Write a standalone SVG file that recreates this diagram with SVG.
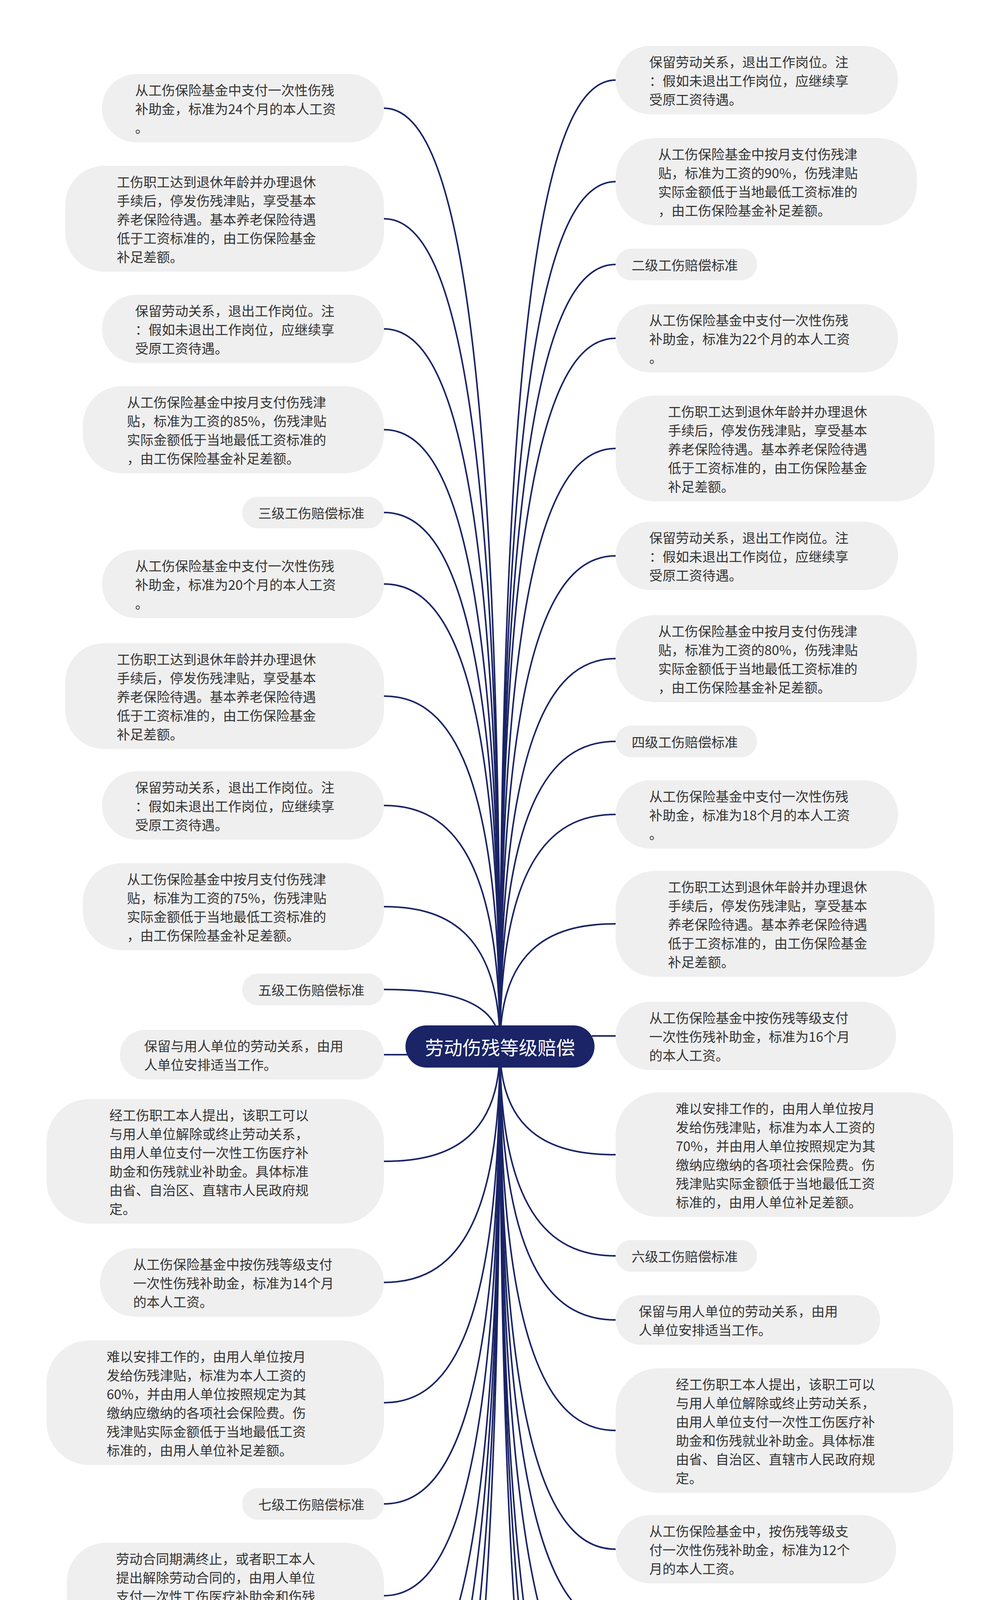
<svg xmlns="http://www.w3.org/2000/svg" width="2560" height="5359" viewBox="0 0 2560 5359">
<style>
.n{fill:#efefef}
.t{font-family:"Noto Sans CJK SC","Noto Sans",sans-serif;font-size:34px;fill:#333;dominant-baseline:central}
.e{fill:none;stroke:#1a2466;stroke-width:4}
</style>
<rect width="2560" height="5359" fill="#fff"/>
<g id="edges" class="e">
<path d="M983,277 C1130,277 1280,637 1280,2680"/>
<path d="M983,560 C1130,560 1280,878 1280,2680"/>
<path d="M983,842 C1130,842 1280,1118 1280,2680"/>
<path d="M983,1100 C1130,1100 1280,1337 1280,2680"/>
<path d="M983,1312 C1130,1312 1280,1517 1280,2680"/>
<path d="M983,1495 C1130,1495 1280,1673 1280,2680"/>
<path d="M983,1782 C1130,1782 1280,1917 1280,2680"/>
<path d="M983,2062 C1130,2062 1280,2155 1280,2680"/>
<path d="M983,2321 C1130,2321 1280,2375 1280,2680"/>
<path d="M983,2533 C1130,2533 1280,2555 1280,2680"/>
<path d="M983,2700 L1045,2700"/>
<path d="M983,2973 C1130,2973 1280,2929 1280,2680"/>
<path d="M983,3283 C1130,3283 1280,3193 1280,2680"/>
<path d="M983,3591 C1130,3591 1280,3454 1280,2680"/>
<path d="M983,3850 C1130,3850 1280,3674 1280,2680"/>
<path d="M983,4085 C1130,4085 1280,3874 1280,2680"/>
<path d="M983,4362 C1130,4362 1280,4110 1280,2680"/>
<path d="M983,4556 C1130,4556 1280,4275 1280,2680"/>
<path d="M983,4792 C1130,4792 1280,4475 1280,2680"/>
<path d="M983,5072 C1130,5072 1280,4713 1280,2680"/>
<path d="M1576,205 C1430,205 1280,576 1280,2680"/>
<path d="M1576,465 C1430,465 1280,797 1280,2680"/>
<path d="M1576,677 C1430,677 1280,977 1280,2680"/>
<path d="M1576,866 C1430,866 1280,1138 1280,2680"/>
<path d="M1576,1148 C1430,1148 1280,1378 1280,2680"/>
<path d="M1576,1423 C1430,1423 1280,1612 1280,2680"/>
<path d="M1576,1686 C1430,1686 1280,1835 1280,2680"/>
<path d="M1576,1898 C1430,1898 1280,2015 1280,2680"/>
<path d="M1576,2085 C1430,2085 1280,2174 1280,2680"/>
<path d="M1576,2365 C1430,2365 1280,2412 1280,2680"/>
<path d="M1576,2652 L1515,2652"/>
<path d="M1576,2956 C1430,2956 1280,2915 1280,2680"/>
<path d="M1576,3215 C1430,3215 1280,3135 1280,2680"/>
<path d="M1576,3379 C1430,3379 1280,3274 1280,2680"/>
<path d="M1576,3662 C1430,3662 1280,3515 1280,2680"/>
<path d="M1576,3966 C1430,3966 1280,3773 1280,2680"/>
<path d="M1576,4157 C1430,4157 1280,3935 1280,2680"/>
<path d="M1576,4393 C1430,4393 1280,4136 1280,2680"/>
<path d="M1576,4676 C1430,4676 1280,4377 1280,2680"/>
<path d="M1576,4860 C1430,4860 1280,4533 1280,2680"/>
<path d="M1576,5096 C1430,5096 1280,4734 1280,2680"/>
</g>
<g id="root"><rect x="1038" y="2625" width="484" height="108" rx="54" fill="#1a2466"/><text x="1280" y="2679" font-family="Noto Sans CJK SC,sans-serif" font-size="48" fill="#fff" text-anchor="middle" dominant-baseline="central">劳动伤残等级赔偿</text></g>

<g id="L1"><rect class="n" x="261" y="189.5" width="722" height="175" rx="88"/><text class="t" x="346" y="229"><tspan x="346">从工伤保险基金中支付一次性伤残</tspan><tspan x="346" dy="48">补助金，标准为24个月的本人工资</tspan><tspan x="346" dy="48">。</tspan></text></g>
<g id="L2"><rect class="n" x="167" y="424.5" width="816" height="271" rx="100"/><text class="t" x="299" y="464"><tspan x="299">工伤职工达到退休年龄并办理退休</tspan><tspan x="299" dy="48">手续后，停发伤残津贴，享受基本</tspan><tspan x="299" dy="48">养老保险待遇。基本养老保险待遇</tspan><tspan x="299" dy="48">低于工资标准的，由工伤保险基金</tspan><tspan x="299" dy="48">补足差额。</tspan></text></g>
<g id="L3"><rect class="n" x="261" y="754.5" width="722" height="175" rx="88"/><text class="t" x="346" y="794"><tspan x="346">保留劳动关系，退出工作岗位。注</tspan><tspan x="346" dy="48">：假如未退出工作岗位，应继续享</tspan><tspan x="346" dy="48">受原工资待遇。</tspan></text></g>
<g id="L4"><rect class="n" x="212" y="988.5" width="771" height="223" rx="100"/><text class="t" x="325" y="1028"><tspan x="325">从工伤保险基金中按月支付伤残津</tspan><tspan x="325" dy="48">贴，标准为工资的85%，伤残津贴</tspan><tspan x="325" dy="48">实际金额低于当地最低工资标准的</tspan><tspan x="325" dy="48">，由工伤保险基金补足差额。</tspan></text></g>
<g id="L5"><rect class="n" x="620" y="1271.5" width="363" height="81" rx="40"/><text class="t" x="661" y="1312">三级工伤赔偿标准</text></g>
<g id="L6"><rect class="n" x="261" y="1407.5" width="722" height="175" rx="88"/><text class="t" x="346" y="1447"><tspan x="346">从工伤保险基金中支付一次性伤残</tspan><tspan x="346" dy="48">补助金，标准为20个月的本人工资</tspan><tspan x="346" dy="48">。</tspan></text></g>
<g id="L7"><rect class="n" x="167" y="1646.5" width="816" height="271" rx="100"/><text class="t" x="299" y="1686"><tspan x="299">工伤职工达到退休年龄并办理退休</tspan><tspan x="299" dy="48">手续后，停发伤残津贴，享受基本</tspan><tspan x="299" dy="48">养老保险待遇。基本养老保险待遇</tspan><tspan x="299" dy="48">低于工资标准的，由工伤保险基金</tspan><tspan x="299" dy="48">补足差额。</tspan></text></g>
<g id="L8"><rect class="n" x="261" y="1974.5" width="722" height="175" rx="88"/><text class="t" x="346" y="2014"><tspan x="346">保留劳动关系，退出工作岗位。注</tspan><tspan x="346" dy="48">：假如未退出工作岗位，应继续享</tspan><tspan x="346" dy="48">受原工资待遇。</tspan></text></g>
<g id="L9"><rect class="n" x="212" y="2209.5" width="771" height="223" rx="100"/><text class="t" x="325" y="2249"><tspan x="325">从工伤保险基金中按月支付伤残津</tspan><tspan x="325" dy="48">贴，标准为工资的75%，伤残津贴</tspan><tspan x="325" dy="48">实际金额低于当地最低工资标准的</tspan><tspan x="325" dy="48">，由工伤保险基金补足差额。</tspan></text></g>
<g id="L10"><rect class="n" x="620" y="2492.5" width="363" height="81" rx="40"/><text class="t" x="661" y="2533">五级工伤赔偿标准</text></g>
<g id="L11"><rect class="n" x="307" y="2636.5" width="676" height="127" rx="63"/><text class="t" x="369" y="2676"><tspan x="369">保留与用人单位的劳动关系，由用</tspan><tspan x="369" dy="48">人单位安排适当工作。</tspan></text></g>
<g id="L12"><rect class="n" x="119" y="2813.5" width="864" height="319" rx="110"/><text class="t" x="280" y="2853"><tspan x="280">经工伤职工本人提出，该职工可以</tspan><tspan x="280" dy="48">与用人单位解除或终止劳动关系，</tspan><tspan x="280" dy="48">由用人单位支付一次性工伤医疗补</tspan><tspan x="280" dy="48">助金和伤残就业补助金。具体标准</tspan><tspan x="280" dy="48">由省、自治区、直辖市人民政府规</tspan><tspan x="280" dy="48">定。</tspan></text></g>
<g id="L13"><rect class="n" x="256" y="3195.5" width="727" height="175" rx="88"/><text class="t" x="341" y="3235"><tspan x="341">从工伤保险基金中按伤残等级支付</tspan><tspan x="341" dy="48">一次性伤残补助金，标准为14个月</tspan><tspan x="341" dy="48">的本人工资。</tspan></text></g>
<g id="L14"><rect class="n" x="119" y="3431.5" width="864" height="319" rx="110"/><text class="t" x="273" y="3471"><tspan x="273">难以安排工作的，由用人单位按月</tspan><tspan x="273" dy="48">发给伤残津贴，标准为本人工资的</tspan><tspan x="273" dy="48">60%，并由用人单位按照规定为其</tspan><tspan x="273" dy="48">缴纳应缴纳的各项社会保险费。伤</tspan><tspan x="273" dy="48">残津贴实际金额低于当地最低工资</tspan><tspan x="273" dy="48">标准的，由用人单位补足差额。</tspan></text></g>
<g id="L15"><rect class="n" x="620" y="3809.5" width="363" height="81" rx="40"/><text class="t" x="661" y="3850">七级工伤赔偿标准</text></g>
<g id="L16"><rect class="n" x="171" y="3949.5" width="812" height="271" rx="100"/><text class="t" x="297" y="3989"><tspan x="297">劳动合同期满终止，或者职工本人</tspan><tspan x="297" dy="48">提出解除劳动合同的，由用人单位</tspan><tspan x="297" dy="48">支付一次性工伤医疗补助金和伤残</tspan><tspan x="297" dy="48">就业补助金。具体标准由省、自治</tspan><tspan x="297" dy="48">区、直辖市人民政府规定。</tspan></text></g>
<g id="L17"><rect class="n" x="256" y="4274.5" width="727" height="175" rx="88"/><text class="t" x="341" y="4314"><tspan x="341">从工伤保险基金中，按伤残等级支</tspan><tspan x="341" dy="48">付一次性伤残补助金，标准为10个</tspan><tspan x="341" dy="48">月的本人工资。</tspan></text></g>
<g id="L18"><rect class="n" x="620" y="4515.5" width="363" height="81" rx="40"/><text class="t" x="661" y="4556">九级工伤赔偿标准</text></g>
<g id="L19"><rect class="n" x="171" y="4656.5" width="812" height="271" rx="100"/><text class="t" x="297" y="4696"><tspan x="297">劳动合同期满终止，或者职工本人</tspan><tspan x="297" dy="48">提出解除劳动合同的，由用人单位</tspan><tspan x="297" dy="48">支付一次性工伤医疗补助金和伤残</tspan><tspan x="297" dy="48">就业补助金。具体标准由省、自治</tspan><tspan x="297" dy="48">区、直辖市人民政府规定。</tspan></text></g>
<g id="L20"><rect class="n" x="256" y="4984.5" width="727" height="175" rx="88"/><text class="t" x="341" y="5024"><tspan x="341">从工伤保险基金中，按伤残等级支</tspan><tspan x="341" dy="48">付一次性伤残补助金，标准为6个</tspan><tspan x="341" dy="48">月的本人工资。</tspan></text></g>

<g id="R1"><rect class="n" x="1576" y="117.5" width="723" height="175" rx="88"/><text class="t" x="1662" y="157"><tspan x="1662">保留劳动关系，退出工作岗位。注</tspan><tspan x="1662" dy="48">：假如未退出工作岗位，应继续享</tspan><tspan x="1662" dy="48">受原工资待遇。</tspan></text></g>
<g id="R2"><rect class="n" x="1576" y="353.5" width="771" height="223" rx="100"/><text class="t" x="1685" y="393"><tspan x="1685">从工伤保险基金中按月支付伤残津</tspan><tspan x="1685" dy="48">贴，标准为工资的90%，伤残津贴</tspan><tspan x="1685" dy="48">实际金额低于当地最低工资标准的</tspan><tspan x="1685" dy="48">，由工伤保险基金补足差额。</tspan></text></g>
<g id="R3"><rect class="n" x="1576" y="636.5" width="362" height="81" rx="40"/><text class="t" x="1617" y="677">二级工伤赔偿标准</text></g>
<g id="R4"><rect class="n" x="1576" y="778.5" width="723" height="175" rx="88"/><text class="t" x="1662" y="818"><tspan x="1662">从工伤保险基金中支付一次性伤残</tspan><tspan x="1662" dy="48">补助金，标准为22个月的本人工资</tspan><tspan x="1662" dy="48">。</tspan></text></g>
<g id="R5"><rect class="n" x="1576" y="1012.5" width="816" height="271" rx="100"/><text class="t" x="1710" y="1052"><tspan x="1710">工伤职工达到退休年龄并办理退休</tspan><tspan x="1710" dy="48">手续后，停发伤残津贴，享受基本</tspan><tspan x="1710" dy="48">养老保险待遇。基本养老保险待遇</tspan><tspan x="1710" dy="48">低于工资标准的，由工伤保险基金</tspan><tspan x="1710" dy="48">补足差额。</tspan></text></g>
<g id="R6"><rect class="n" x="1576" y="1335.5" width="723" height="175" rx="88"/><text class="t" x="1662" y="1375"><tspan x="1662">保留劳动关系，退出工作岗位。注</tspan><tspan x="1662" dy="48">：假如未退出工作岗位，应继续享</tspan><tspan x="1662" dy="48">受原工资待遇。</tspan></text></g>
<g id="R7"><rect class="n" x="1576" y="1574.5" width="771" height="223" rx="100"/><text class="t" x="1685" y="1614"><tspan x="1685">从工伤保险基金中按月支付伤残津</tspan><tspan x="1685" dy="48">贴，标准为工资的80%，伤残津贴</tspan><tspan x="1685" dy="48">实际金额低于当地最低工资标准的</tspan><tspan x="1685" dy="48">，由工伤保险基金补足差额。</tspan></text></g>
<g id="R8"><rect class="n" x="1576" y="1857.5" width="362" height="81" rx="40"/><text class="t" x="1617" y="1898">四级工伤赔偿标准</text></g>
<g id="R9"><rect class="n" x="1576" y="1997.5" width="723" height="175" rx="88"/><text class="t" x="1662" y="2037"><tspan x="1662">从工伤保险基金中支付一次性伤残</tspan><tspan x="1662" dy="48">补助金，标准为18个月的本人工资</tspan><tspan x="1662" dy="48">。</tspan></text></g>
<g id="R10"><rect class="n" x="1576" y="2229.5" width="816" height="271" rx="100"/><text class="t" x="1710" y="2269"><tspan x="1710">工伤职工达到退休年龄并办理退休</tspan><tspan x="1710" dy="48">手续后，停发伤残津贴，享受基本</tspan><tspan x="1710" dy="48">养老保险待遇。基本养老保险待遇</tspan><tspan x="1710" dy="48">低于工资标准的，由工伤保险基金</tspan><tspan x="1710" dy="48">补足差额。</tspan></text></g>
<g id="R11"><rect class="n" x="1576" y="2564.5" width="718" height="175" rx="88"/><text class="t" x="1662" y="2604"><tspan x="1662">从工伤保险基金中按伤残等级支付</tspan><tspan x="1662" dy="48">一次性伤残补助金，标准为16个月</tspan><tspan x="1662" dy="48">的本人工资。</tspan></text></g>
<g id="R12"><rect class="n" x="1576" y="2796.5" width="864" height="319" rx="110"/><text class="t" x="1730" y="2836"><tspan x="1730">难以安排工作的，由用人单位按月</tspan><tspan x="1730" dy="48">发给伤残津贴，标准为本人工资的</tspan><tspan x="1730" dy="48">70%，并由用人单位按照规定为其</tspan><tspan x="1730" dy="48">缴纳应缴纳的各项社会保险费。伤</tspan><tspan x="1730" dy="48">残津贴实际金额低于当地最低工资</tspan><tspan x="1730" dy="48">标准的，由用人单位补足差额。</tspan></text></g>
<g id="R13"><rect class="n" x="1576" y="3174.5" width="362" height="81" rx="40"/><text class="t" x="1617" y="3215">六级工伤赔偿标准</text></g>
<g id="R14"><rect class="n" x="1576" y="3315.5" width="677" height="127" rx="63"/><text class="t" x="1635" y="3355"><tspan x="1635">保留与用人单位的劳动关系，由用</tspan><tspan x="1635" dy="48">人单位安排适当工作。</tspan></text></g>
<g id="R15"><rect class="n" x="1576" y="3502.5" width="864" height="319" rx="110"/><text class="t" x="1730" y="3542"><tspan x="1730">经工伤职工本人提出，该职工可以</tspan><tspan x="1730" dy="48">与用人单位解除或终止劳动关系，</tspan><tspan x="1730" dy="48">由用人单位支付一次性工伤医疗补</tspan><tspan x="1730" dy="48">助金和伤残就业补助金。具体标准</tspan><tspan x="1730" dy="48">由省、自治区、直辖市人民政府规</tspan><tspan x="1730" dy="48">定。</tspan></text></g>
<g id="R16"><rect class="n" x="1576" y="3878.5" width="718" height="175" rx="88"/><text class="t" x="1662" y="3918"><tspan x="1662">从工伤保险基金中，按伤残等级支</tspan><tspan x="1662" dy="48">付一次性伤残补助金，标准为12个</tspan><tspan x="1662" dy="48">月的本人工资。</tspan></text></g>
<g id="R17"><rect class="n" x="1576" y="4116.5" width="362" height="81" rx="40"/><text class="t" x="1617" y="4157">八级工伤赔偿标准</text></g>
<g id="R18"><rect class="n" x="1576" y="4257.5" width="813" height="271" rx="100"/><text class="t" x="1706" y="4297"><tspan x="1706">劳动合同期满终止，或者职工本人</tspan><tspan x="1706" dy="48">提出解除劳动合同的，由用人单位</tspan><tspan x="1706" dy="48">支付一次性工伤医疗补助金和伤残</tspan><tspan x="1706" dy="48">就业补助金。具体标准由省、自治</tspan><tspan x="1706" dy="48">区、直辖市人民政府规定。</tspan></text></g>
<g id="R19"><rect class="n" x="1576" y="4588.5" width="718" height="175" rx="88"/><text class="t" x="1662" y="4628"><tspan x="1662">从工伤保险基金中，按伤残等级支</tspan><tspan x="1662" dy="48">付一次性伤残补助金，标准为8个</tspan><tspan x="1662" dy="48">月的本人工资。</tspan></text></g>
<g id="R20"><rect class="n" x="1576" y="4819.5" width="362" height="81" rx="40"/><text class="t" x="1617" y="4860">十级工伤赔偿标准</text></g>
<g id="R21"><rect class="n" x="1576" y="4960.5" width="813" height="271" rx="100"/><text class="t" x="1706" y="5000"><tspan x="1706">劳动合同期满终止，或者职工本人</tspan><tspan x="1706" dy="48">提出解除劳动合同的，由用人单位</tspan><tspan x="1706" dy="48">支付一次性工伤医疗补助金和伤残</tspan><tspan x="1706" dy="48">就业补助金。具体标准由省、自治</tspan><tspan x="1706" dy="48">区、直辖市人民政府规定。</tspan></text></g>
</svg>
